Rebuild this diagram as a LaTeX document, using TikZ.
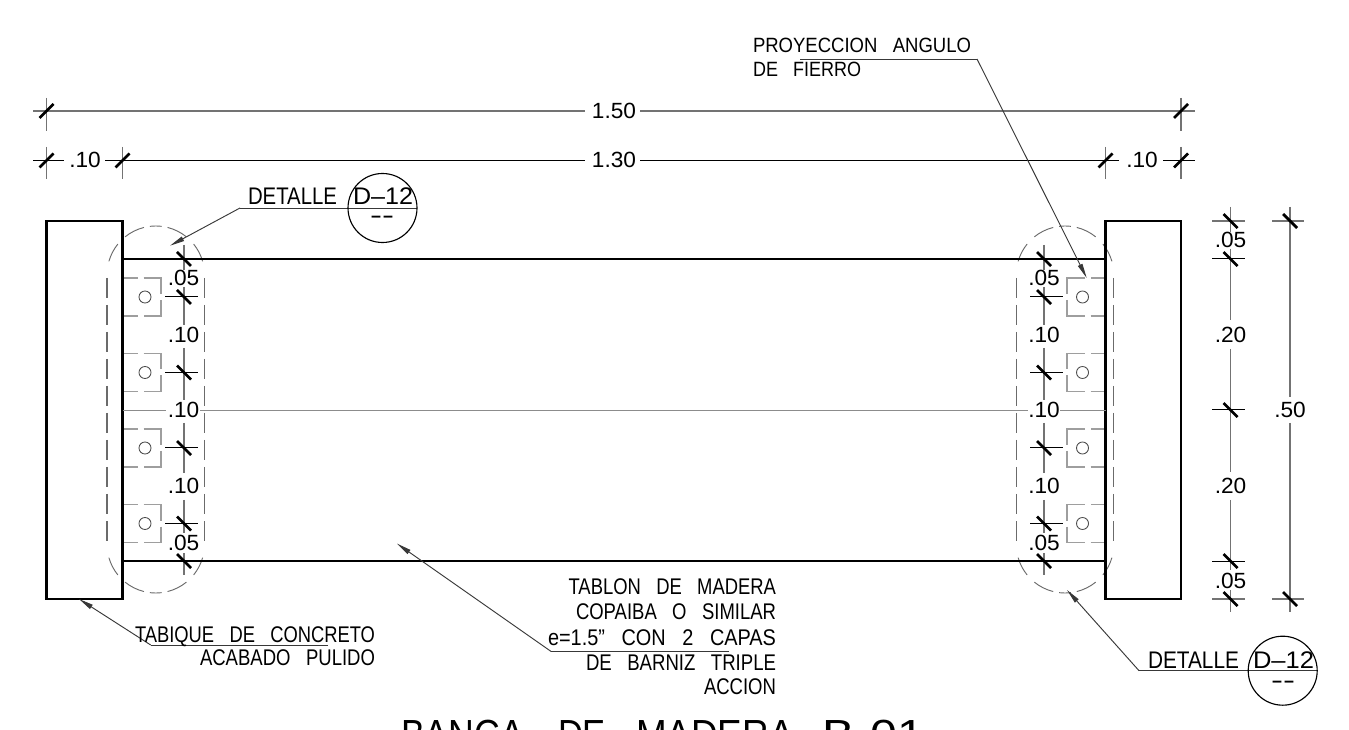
\documentclass[tikz,border=0pt]{standalone}
\usepackage{fontspec}
\usepackage{graphicx}
\setmainfont{Liberation Sans}
\usetikzlibrary{arrows.meta}
\definecolor{dimgray}{gray}{0.45}
\definecolor{capgray}{gray}{0.42}
\definecolor{anglegray}{gray}{0.62}
\definecolor{leadgray}{gray}{0.22}
\newcommand{\lbl}[6][17]{\node[txt] (#2) at (#3,#4) {\resizebox{\dimexpr #5pt*3/4\relax}{\height}{\fontsize{#1}{18}\selectfont #6}};}
\newcommand{\wsp}{\ \ \ }
\newcommand{\tword}[2]{\resizebox{\dimexpr #1pt*3/4\relax}{\height}{#2}}
\newcommand{\tgap}[1]{\hspace*{\dimexpr #1pt*3/4\relax}}
\newcommand{\dmt}[4]{\node[dimtxt] (#1) at (#2,#3) {\scalebox{1.03}[1]{#4}};}
\newcommand{\slashtick}[2]{\draw[tick] (#1-7,#2+7) -- (#1+7,#2-7);}
\newcommand{\backtick}[2]{\draw[tick] (#1-7,#2-7) -- (#1+7,#2+7);}
\newcommand{\capsule}[1]{%
  \foreach \a/\b in {263/277,231/256,284/309,196/219,321/344}{
    \draw[capthin] (#1,274.75) ++(\a:48.75) arc[start angle=\a,end angle=\b,radius=48.75];
    \draw[capthin] (#1,544.25) ++(-\a:48.75) arc[start angle=-\a,end angle=-\b,radius=48.75];
  }
  \draw[capdash] (#1-48.75,278) -- (#1-48.75,541);
  \draw[capdash] (#1+48.75,278) -- (#1+48.75,541);
}
% angle: #1 wall x, #2 centre y, #3 direction (+1 left wall, -1 right wall), #4 circle x
\newcommand{\angleplate}[4]{%
  \draw[plate] (#1,#2-19) -- (#1+#3*15,#2-19);
  \draw[plate] (#1+#3*21,#2-19) -- (#1+#3*38.5,#2-19) -- (#1+#3*38.5,#2-3);
  \draw[plate] (#1+#3*38.5,#2+3) -- (#1+#3*38.5,#2+19) -- (#1+#3*21,#2+19);
  \draw[plate] (#1+#3*15,#2+19) -- (#1,#2+19);
  \draw[boltc] (#4,#2) circle[radius=6];
}
\begin{document}
\begin{tikzpicture}[x=0.75pt,y=-0.75pt,
  txt/.style={anchor=base west,inner sep=0pt,outer sep=0pt,text=black},
  dimtxt/.style={anchor=base,inner sep=0pt,outer sep=0pt,text=black,font=\fontsize{16.5}{18}\selectfont},
  heavy/.style={draw=black,line width=1.7pt},
  tick/.style={draw=black,line width=2.1pt},
  dimv/.style={draw=dimgray,line width=0.95pt},
  dimh/.style={draw=black,line width=0.75pt},
  dimh2/.style={draw=dimgray,line width=0.95pt},
  capthin/.style={draw=capgray,line width=0.7pt},
  capdash/.style={draw=capgray,line width=1.05pt,dash pattern=on 15pt off 5.25pt},
  plate/.style={draw=anglegray,line width=1.1pt},
  boltc/.style={draw=black!70,line width=0.65pt},
  leader/.style={draw=leadgray,line width=0.7pt},
  tip/.style={-{Stealth[inset=0pt,length=11pt,width=3.6pt]}},
  bubble/.style={draw=black,line width=0.85pt},
]
\useasboundingbox (0,0) rectangle (1349,730);
\clip (0,0) rectangle (1349,730);
\fill[white] (0,0) rectangle (1349,730);

% capsules, plates
\capsule{155.75}
\capsule{1065}
\foreach \yy in {297,372.5,448,523.5}{
  \angleplate{122.5}{\yy}{1}{145}
  \angleplate{1105.5}{\yy}{-1}{1082.5}
}

% piers and plank
\draw[heavy] (46.5,221) rectangle (122.5,599);
\draw[heavy] (1105.5,221) rectangle (1181,599);
\draw[heavy] (122.5,259) -- (1105.5,259);
\draw[heavy] (122.5,561) -- (1105.5,561);
\draw[draw=black!45,line width=0.7pt] (122.5,410) -- (166,410) (200,410) -- (1028,410) (1060,410) -- (1105.5,410);

% top dimensions
\draw[dimh2] (33,111) -- (585,111) (640,111) -- (1195,111);
\draw[dimv] (46.5,98) -- (46.5,131) (1181,98) -- (1181,131);
\slashtick{46.5}{111}\slashtick{1181}{111}
\dmt{d150}{614}{118.5}{1.50}
\draw[dimh] (33,160.5) -- (64,160.5) (105,160.5) -- (585,160.5) (640,160.5) -- (1119,160.5) (1163,160.5) -- (1195,160.5);
\draw[dimv] (46.5,147) -- (46.5,179) (122.5,147) -- (122.5,179) (1105.5,147) -- (1105.5,179) (1181,147) -- (1181,179);
\slashtick{46.5}{160.5}\slashtick{122.5}{160.5}\slashtick{1105.5}{160.5}\slashtick{1181}{160.5}
\dmt{d010a}{85}{168}{.10}
\dmt{d130}{614}{168}{1.30}
\dmt{d010b}{1142}{168}{.10}

% left inner dimensions
\draw[dimv] (184,245) -- (184,270) (184,287) -- (184,325) (184,348) -- (184,400) (184,423) -- (184,473) (184,500) -- (184,533) (184,553) -- (184,575);
\draw[dimh] (165,297) -- (198,297) (165,372.5) -- (198,372.5) (165,448) -- (198,448) (165,523.5) -- (198,523.5);
\foreach \yy in {259,297,372.5,448,523.5,561}{\backtick{184}{\yy}}
\dmt{l1}{183.5}{286}{.05}
\dmt{l2}{183.5}{342.7}{.10}
\dmt{l3}{183.5}{417.7}{.10}
\dmt{l4}{183.5}{493.3}{.10}
\dmt{l5}{183.5}{550}{.05}

% right inner dimensions
\draw[dimv] (1044,245) -- (1044,270) (1044,287) -- (1044,325) (1044,348) -- (1044,400) (1044,423) -- (1044,473) (1044,500) -- (1044,533) (1044,553) -- (1044,575);
\draw[dimh] (1030,297) -- (1063,297) (1030,372.5) -- (1063,372.5) (1030,448) -- (1063,448) (1030,523.5) -- (1063,523.5);
\foreach \yy in {259,297,372.5,448,523.5,561}{\backtick{1044}{\yy}}
\dmt{r1}{1044}{286}{.05}
\dmt{r2}{1044}{342.7}{.10}
\dmt{r3}{1044}{417.7}{.10}
\dmt{r4}{1044}{493.3}{.10}
\dmt{r5}{1044}{550}{.05}

% far right dimensions
\draw[dimv] (1230.5,207) -- (1230.5,232) (1230.5,249) -- (1230.5,320) (1230.5,349) -- (1230.5,472) (1230.5,500) -- (1230.5,570) (1230.5,590) -- (1230.5,612);
\draw[dimh2] (1212,221) -- (1245,221) (1212,599) -- (1245,599);
\draw[dimh] (1212,259) -- (1245,259) (1212,410) -- (1245,410) (1212,561) -- (1245,561);
\foreach \yy in {221,259,410,561,599}{\backtick{1230.5}{\yy}}
\dmt{f1}{1230.5}{248}{.05}
\dmt{f2}{1230.5}{342.7}{.20}
\dmt{f3}{1230.5}{493.3}{.20}
\dmt{f4}{1230.5}{588}{.05}
\draw[dimv] (1290,207) -- (1290,397) (1290,423) -- (1290,612);
\draw[dimh2] (1272,221) -- (1304,221) (1272,599) -- (1304,599);
\backtick{1290}{221}\backtick{1290}{599}
\dmt{f5}{1290}{417.7}{.50}

% leaders
\coordinate (tipA) at (170,245.7);
\coordinate (elbA) at (240,208);
\coordinate (endA) at (417,208);
\draw[leader] (endA) -- (elbA);
\draw[leader,tip] (elbA) -- (tipA);

\coordinate (tipB) at (1086.7,278);
\coordinate (elbB) at (977,59);
\coordinate (endB) at (800,59);
\draw[leader] (endB) -- (elbB);
\draw[leader,tip] (elbB) -- (tipB);

\coordinate (tipC) at (1067,590);
\coordinate (elbC) at (1139,670.7);
\coordinate (endC) at (1317,670.7);
\draw[leader] (endC) -- (elbC);
\draw[leader,tip] (elbC) -- (tipC);

\coordinate (tipD) at (79,599);
\coordinate (elbD) at (150.7,645);
\coordinate (endD) at (328,645);
\draw[leader] (endD) -- (elbD);
\draw[leader,tip] (elbD) -- (tipD);

\coordinate (tipE) at (397,543.6);
\coordinate (elbE) at (551,651.4);
\coordinate (endE) at (729,651.4);
\draw[leader] (endE) -- (elbE);
\draw[leader,tip] (elbE) -- (tipE);

% detail bubbles
\draw[bubble] (382.5,208) circle[radius=34.5];
\draw[bubble] (1282.7,670.7) circle[radius=34.5];
\lbl[18]{detA}{248}{205}{89}{DETALLE}
\lbl[18]{numA}{353}{205}{60}{D–12}
\lbl[18]{subA}{370}{224}{24}{{-}{-}}
\lbl[18]{detB}{1148}{668}{91}{DETALLE}
\lbl[18]{numB}{1253}{668}{61}{D–12}
\lbl[18]{subB}{1271}{688}{24}{{-}{-}}

% notes
\lbl[15.5]{pr1}{753}{53}{218}{PROYECCION\wsp ANGULO}
\lbl[15.5]{pr2}{753}{77}{108}{DE\wsp FIERRO}
\lbl{ta1}{135}{642}{240}{TABIQUE\wsp DE\wsp CONCRETO}
\lbl{ta2}{200}{665}{175}{ACABADO\wsp PULIDO}
\lbl{tb1}{568.6}{594}{207.4}{TABLON\wsp DE\wsp MADERA}
\lbl{tb2}{576}{619}{200}{COPAIBA\wsp O\wsp SIMILAR}
\lbl{tb3}{548}{645}{228}{e=1.5”\wsp CON\wsp 2\wsp CAPAS}
\lbl{tb4}{586}{670}{190}{DE\wsp BARNIZ\wsp TRIPLE}
\lbl{tb5}{704}{694}{72}{ACCION}

% title, cut by the page edge
\node[txt,font=\fontsize{30.5}{33}\selectfont] (title) at (401,748.5) {\tword{123}{BANCA}\tgap{34}\tword{48}{DE}\tgap{30}\tword{157.6}{MADERA}\tgap{28.4}\tword{102}{B-01}};
\end{tikzpicture}
\end{document}
